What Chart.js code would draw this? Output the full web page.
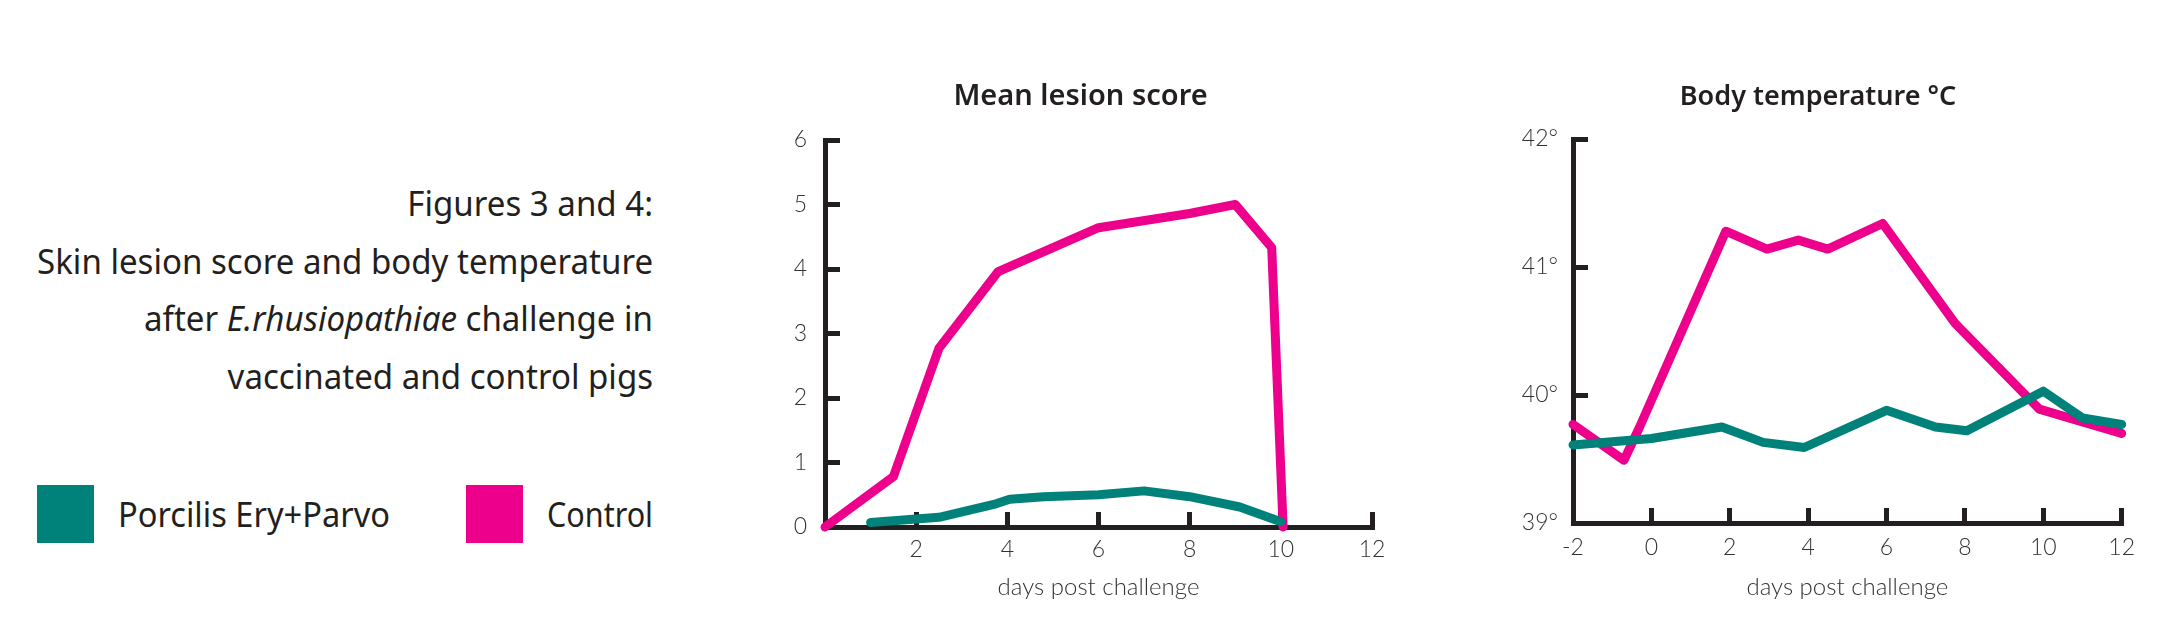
<!DOCTYPE html>
<html>
<head>
<meta charset="utf-8">
<script src="https://cdn.jsdelivr.net/npm/chart.js@4.4.1/dist/chart.umd.min.js"></script>
<style>
  html, body { margin: 0; padding: 0; background: #fff; }
  body {
    width: 2161px; height: 631px; position: relative; overflow: hidden;
    font-family: "Noto Sans", "Open Sans", sans-serif;
    color: #231f20;
  }
  #caption {
    position: absolute; right: 1508px; top: 174px;
    text-align: right; font-size: 35px; line-height: 57.7px; white-space: nowrap;
    transform-origin: right center;
  }
  .swatch { position: absolute; top: 485px; width: 57px; height: 58px; }
  .keytext {
    position: absolute; top: 490px; height: 48px; line-height: 48px;
    font-size: 35px; white-space: nowrap; transform-origin: left center;
  }
  canvas { position: absolute; }
</style>
</head>
<body>
<div id="caption">
  <span class="ln">Figures 3 and 4:</span><br>
  <span class="ln" id="widest">Skin lesion score and body temperature</span><br>
  <span class="ln">after <i>E.rhusiopathiae</i> challenge in</span><br>
  <span class="ln">vaccinated and control pigs</span>
</div>
<div class="swatch" style="left:37px;background:#00827a"></div>
<div class="keytext" id="key0" style="left:118px"></div>
<div class="swatch" style="left:466px;background:#ec008c"></div>
<div class="keytext" id="key1" style="left:547px"></div>

<canvas id="lesion" width="720" height="560" style="left:700px;top:60px"></canvas>
<canvas id="temp" width="701" height="560" style="left:1460px;top:60px"></canvas>

<script>
// series names / colours
const seriesNames = ['Porcilis Ery+Parvo', 'Control'];
const seriesColors = ['#00827a', '#ec008c'];
const keyWidths = [272, 106];

// Figure 3: mean lesion score
const lesionVaccDays = [1.0, 2.5, 3.75, 4.05, 4.8, 6.0, 7.0, 8.0, 9.1, 10.0];
const lesionVacc = [0.07, 0.15, 0.36, 0.43, 0.47, 0.5, 0.56, 0.47, 0.31, 0.08];
const lesionCtrlDays = [0, 1.5, 2.5, 3.8, 6.0, 8.0, 9.0, 9.8, 10.05];
const lesionCtrl = [0, 0.78, 2.77, 3.96, 4.64, 4.86, 5.0, 4.33, 0];

// Figure 4: body temperature
const tempVaccDays = [-2, 0, 1.8, 2.85, 3.9, 6.0, 7.25, 8.05, 10.0, 11.0, 12.0];
const tempVacc = [39.61, 39.66, 39.75, 39.63, 39.59, 39.88, 39.75, 39.72, 40.03, 39.82, 39.77];
const tempCtrlDays = [-2, -0.7, -0.3, 1.9, 2.95, 3.75, 4.5, 5.9, 7.75, 9.9, 11.0, 12.0];
const tempCtrl = [39.77, 39.49, 39.75, 41.28, 41.14, 41.21, 41.14, 41.34, 40.56, 39.89, 39.79, 39.70];

const ink = '#231f20';
const headFamily = '"Noto Sans", "Open Sans", sans-serif';
const labelFont = { family: 'Lato, "DejaVu Sans", sans-serif', size: 23, weight: 300 };
const axisTitleFont = { family: 'Lato, "DejaVu Sans", sans-serif', size: 24, weight: 300, lineHeight: 1.2 };

// the original uses a condensed face: squeeze the html text to the same width
const caption = document.getElementById('caption');
const squeeze = 616 / document.getElementById('widest').getBoundingClientRect().width;
caption.style.transform = 'scaleX(' + squeeze + ')';
seriesNames.forEach((name, i) => {
  const el = document.getElementById('key' + i);
  el.textContent = name;
  el.style.transform = 'scaleX(' + (keyWidths[i] / el.getBoundingClientRect().width) + ')';
});

// size chart titles so they span about the same width as in the original
function fitSize(text, weight, target) {
  const ctx = document.createElement('canvas').getContext('2d');
  ctx.font = weight + ' 100px ' + headFamily;
  return Math.round(100 * target / ctx.measureText(text).width);
}

function points(xs, ys) {
  return xs.map((x, i) => ({ x, y: ys[i] }));
}

function dataset(i, xs, ys) {
  return {
    label: seriesNames[i],
    data: points(xs, ys),
    borderColor: seriesColors[i],
    backgroundColor: seriesColors[i],
    borderWidth: 9,
    pointRadius: 0,
    tension: 0,
    borderJoinStyle: 'round',
    borderCapStyle: 'round',
    clip: false
  };
}

function axisStyle() {
  return {
    border: { display: true, color: ink, width: 5 },
    grid: { drawOnChartArea: false, drawTicks: true, tickLength: -15, lineWidth: 5, tickWidth: 5, color: ink, tickColor: ink }
  };
}

function makeChart(id, o) {
  const size = fitSize(o.title, 600, o.titleWidth);
  const lh = size * 1.2;
  const padTop = 37 - lh / 2;
  const padBottom = o.plotTop - padTop - lh;
  return new Chart(document.getElementById(id), {
    type: 'line',
    data: { datasets: o.datasets },
    options: {
      responsive: false,
      animation: false,
      layout: { padding: { left: o.padLeft, right: o.padRight, top: 0, bottom: 0 } },
      plugins: {
        legend: { display: false },
        tooltip: { enabled: false },
        title: {
          display: true, text: o.title, color: ink,
          font: { family: headFamily, size, weight: 600, lineHeight: 1.2 },
          padding: { top: padTop, bottom: padBottom }
        }
      },
      scales: {
        x: {
          type: 'linear', min: o.xMin, max: o.xMax,
          ...axisStyle(),
          ticks: {
            stepSize: 2, autoSkip: false, maxRotation: 0, color: '#333', font: labelFont, padding: o.xTickPad,
            callback: o.xLabel
          },
          title: { display: true, text: 'days post challenge', color: '#333', font: axisTitleFont, padding: { top: 0, bottom: 18 } },
          afterFit: s => { s.height = o.xHeight; }
        },
        y: {
          min: o.yMin, max: o.yMax,
          ...axisStyle(),
          ticks: { stepSize: 1, color: '#333', font: labelFont, padding: o.yTickPad, callback: o.yLabel },
          afterFit: s => { s.width = o.yWidth; }
        }
      }
    }
  });
}

makeChart('lesion', {
  title: 'Mean lesion score',
  titleWidth: 258,
  datasets: [dataset(0, lesionVaccDays, lesionVacc), dataset(1, lesionCtrlDays, lesionCtrl)],
  xMin: 0, xMax: 12, yMin: 0, yMax: 6,
  xLabel: v => (v === 0 ? '' : v),
  yLabel: v => v,
  padLeft: 89, padRight: 48, yWidth: 36, xHeight: 93, plotTop: 80,
  xTickPad: 24, yTickPad: 33
});

makeChart('temp', {
  title: 'Body temperature °C',
  titleWidth: 278,
  datasets: [dataset(0, tempVaccDays, tempVacc), dataset(1, tempCtrlDays, tempCtrl)],
  xMin: -2, xMax: 12, yMin: 39, yMax: 42,
  xLabel: v => v,
  yLabel: v => v + '°',
  padLeft: 53, padRight: 38, yWidth: 60, xHeight: 97, plotTop: 79,
  xTickPad: 26, yTickPad: 30
});
</script>
</body>
</html>
